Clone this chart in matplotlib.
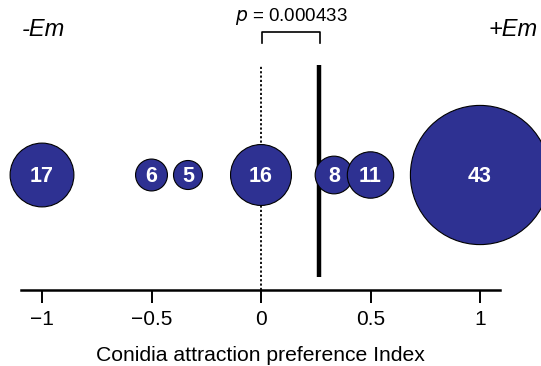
import matplotlib
matplotlib.use("Agg")
import matplotlib.pyplot as plt

plt.rcParams['font.family'] = ['Liberation Sans', 'DejaVu Sans']

# Preference index bins and number of observations in each
index_values = [-1, -0.5, -1/3, 0, 1/3, 0.5, 1]
counts = [17, 6, 5, 16, 8, 11, 43]
mean_index = 0.265
p_label = "0.000433"
xticks = [-1, -0.5, 0, 0.5, 1]
xtick_labels = ["\u22121", "\u22120.5", "0", "0.5", "1"]

W, H, DPI = 541, 366, 100
fig = plt.figure(figsize=(W / DPI, H / DPI), dpi=DPI)

# axes: one y unit = one pixel above the axis line
ax_left, ax_right = 21, 500
axis_y = 290
ax = fig.add_axes([ax_left / W, (H - axis_y) / H, (ax_right - ax_left) / W, axis_y / H])
px_per_unit = 219.0
x0_px = 261
ax.set_xlim((ax_left - x0_px) / px_per_unit, (ax_right - x0_px) / px_per_unit)
ax.set_ylim(0, axis_y)

# bubble radius grows linearly with count (pixels)
def radius_px(n):
    return 7.25 + 1.45 * n

sizes = [(2 * radius_px(n) * 72 / DPI) ** 2 for n in counts]
y_row = 115
ax.scatter(index_values, [y_row] * len(counts), s=sizes, c="#2E3192",
           edgecolors="black", linewidths=0.8, zorder=3, clip_on=False)
for xv, n in zip(index_values, counts):
    ax.text(xv, y_row - 1, str(n), color="white", fontsize=15.5, fontweight="bold",
            ha="center", va="center", zorder=4)

# neutral line and mean index
ax.plot([0, 0], [0, 224], color="black", lw=1.3, ls=(0, (1.2, 1.2)), zorder=1)
ax.plot([mean_index, mean_index], [13, 225], color="black", lw=3.2, zorder=2,
        solid_capstyle="butt")

# significance bracket
bx0, bx1 = 0.005, 0.27
ax.plot([bx0, bx0, bx1, bx1], [247, 258, 258, 247], color="black", lw=1.2,
        clip_on=False)
ax.text((bx0 + bx1) / 2, 263, "$\\it{p}$ = " + p_label, ha="center", va="bottom",
        fontsize=13.5)

# side labels
fig.text(22 / W, 1 - 29 / H, "-Em", fontsize=17, style="italic", ha="left", va="center")
fig.text(538 / W, 1 - 29 / H, "+Em", fontsize=17, style="italic", ha="right", va="center")

# axis styling
for side in ("top", "right", "left"):
    ax.spines[side].set_visible(False)
ax.spines["bottom"].set_linewidth(1.8)
ax.set_yticks([])
ax.set_xticks(xticks)
ax.set_xticklabels(xtick_labels, fontsize=15)
ax.tick_params(axis="x", direction="out", length=9.5, width=1.4, pad=5)
ax.set_xlabel("Conidia attraction preference Index", fontsize=15.2, labelpad=12)
ax.patch.set_visible(False)

fig.savefig("out.png", dpi=DPI)
